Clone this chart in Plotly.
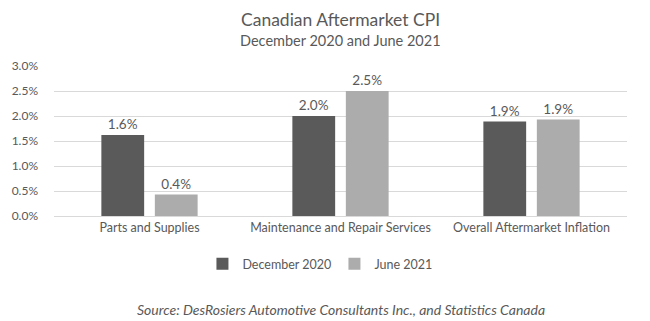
import plotly.graph_objects as go

categories = ["Parts and Supplies", "Maintenance and Repair Services", "Overall Aftermarket Inflation"]
dec_2020 = [1.62, 2.0, 1.89]
jun_2021 = [0.43, 2.5, 1.93]
series_names = ["December 2020", "June 2021"]
tick_vals = [0, 0.5, 1.0, 1.5, 2.0, 2.5, 3.0]
tick_text = ["0.0%", "0.5%", "1.0%", "1.5%", "2.0%", "2.5%", "3.0%"]

FONT = "Lato, 'Open Sans', sans-serif"
TXT = "#595959"

fig = go.Figure()
for name, vals, col in [(series_names[0], dec_2020, "#5a5a5a"), (series_names[1], jun_2021, "#acacac")]:
    fig.add_trace(go.Bar(
        x=categories, y=vals, name=name, marker_color=col, marker_line_width=0,
        texttemplate="%{y:.1f}%", textposition="outside",
        textfont=dict(family=FONT, size=13.5, color=TXT), cliponaxis=False,
    ))

H = 150.0  # plot height in px (t=66, bottom at 216)
W = 579.0
def py(pix):
    return (216 - pix) / H
def px(pix):
    return (pix - 48) / W

fig.update_layout(
    width=650, height=321,
    margin=dict(l=48, r=23, t=66, b=105),
    paper_bgcolor="white", plot_bgcolor="white",
    barmode="group", bargap=0.44, bargroupgap=0.2,
    font=dict(family=FONT, color=TXT, size=12),
    showlegend=True,
    legend=dict(orientation="h", x=px(198), xanchor="left", y=py(264), yanchor="middle",
                font=dict(family=FONT, size=12.5, color=TXT), itemwidth=30,
                entrywidth=87, entrywidthmode="pixels"),
    annotations=[
        dict(text="Canadian Aftermarket CPI", x=0.5, xref="paper", y=py(19.5), yref="paper",
             yanchor="middle", showarrow=False, font=dict(family=FONT, size=17.5, color=TXT)),
        dict(text="December 2020 and June 2021", x=0.5, xref="paper", y=py(40), yref="paper",
             yanchor="middle", showarrow=False, font=dict(family=FONT, size=14.5, color=TXT)),
        dict(text="<i>Source: DesRosiers Automotive Consultants Inc., and Statistics Canada</i>",
             x=0.5, xref="paper", y=py(309), yref="paper", yanchor="middle", showarrow=False,
             font=dict(family=FONT, size=14, color=TXT)),
    ],
)

fig.update_yaxes(range=[0, 3], tickvals=tick_vals, ticktext=tick_text,
                 showgrid=True, gridcolor="#d9d9d9", gridwidth=1, zeroline=False,
                 showline=False, ticks="", ticklabelstandoff=15,
                 tickfont=dict(family=FONT, size=12, color=TXT))
fig.update_xaxes(showline=True, linecolor="#d9d9d9", linewidth=1, ticks="",
                 tickfont=dict(family=FONT, size=12.5, color=TXT))

fig.write_html("out.html")
